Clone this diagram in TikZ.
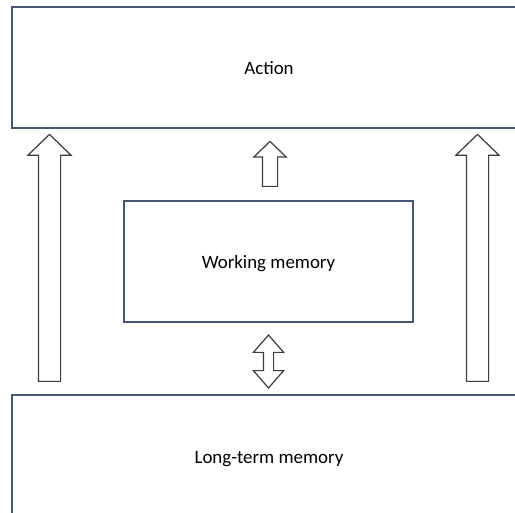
\documentclass[tikz,border=0pt]{standalone}
\usepackage{fontspec}
\setmainfont{Carlito}
\usetikzlibrary{shapes.arrows, positioning}

\definecolor{boxline}{RGB}{70,86,122}
\definecolor{arrline}{RGB}{60,60,60}

\tikzset{
	blk/.style={draw=boxline, line width=1.1pt, fill=white, rectangle, inner sep=0pt, text depth=0pt, font=\fontsize{18.9}{22}\selectfont},
	uparr/.style={draw=arrline, line width=1.2pt, fill=white, single arrow, single arrow head indent=0pt, single arrow tip angle=92, rotate=90, anchor=tail, inner xsep=0pt},
	duparr/.style={draw=arrline, line width=1.2pt, fill=white, double arrow, double arrow head indent=0pt, double arrow tip angle=82, rotate=90, inner xsep=0pt}
}

\begin{document}
\begin{tikzpicture}[x=1pt, y=1pt]
	\useasboundingbox (0,0) rectangle (515,513);
	\clip (0,0) rectangle (515,513);

	% boxes
	\node[blk, minimum width=514pt, minimum height=121pt] 	(act)  at (269,445.5) 	{Action};
	\node[blk, minimum width=289pt, minimum height=121pt] 	(wm)   at (268.5,251.5) 	{Working memory};
	\node[blk, minimum width=514pt, minimum height=125pt] 	(ltm)  at (269,55.5) 	{Long-term memory};

	% block arrows between the boxes (placed by their tails)
	\node[uparr, minimum height=247pt, inner ysep=10.5pt, single arrow head extend=10.5pt] 	(la)  at (49.5,131) 	{};
	\node[uparr, minimum height=247pt, inner ysep=10.5pt, single arrow head extend=10.5pt] 	(ra)  at (477.5,131) 	{};
	\node[uparr, minimum height=45pt, inner ysep=7pt, single arrow head extend=8.5pt] 	(wa)  at (270,326) 	{};
	\node[duparr, minimum height=53pt, inner ysep=4.5pt, double arrow head extend=10pt] 	(da)  at (268.5,151.5) 	{};
\end{tikzpicture}
\end{document}
